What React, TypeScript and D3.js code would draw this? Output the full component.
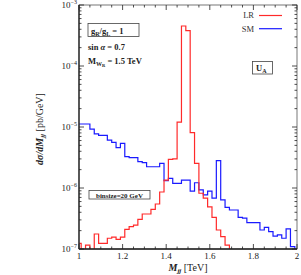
import * as d3 from "d3";

// 20 GeV bins centred on 1.00, 1.02, ... 2.00 TeV (51 bins), values in pb/GeV
const binStart = 0.99;
const binSize = 0.02;
const lrValues = [
  1.24e-7, 8e-8, 1.16e-7, 8e-8, 1.76e-7, 1.24e-7, 1.24e-7, 1.5e-7, 1.56e-7, 1.44e-7,
  1.56e-7, 2.1e-7, 2.32e-7, 2.47e-7, 3.07e-7, 3.75e-7, 3.75e-7, 4.47e-7, 5.47e-7, 8.6e-7,
  1.35e-6, 2.95e-6, 3.0e-6, 1.2e-5, 4.53e-4, 3.79e-4, 8.1e-6, 2.54e-6, 8.2e-7, 6.8e-7,
  4.9e-7, 3.3e-7, 2.05e-7, 1.59e-7, 1.16e-7, 8e-8, 8e-8, 8e-8, 8e-8, 8e-8,
  8e-8, 8e-8, 8e-8, 8e-8, 8e-8, 8e-8, 8e-8, 8e-8, 8e-8, 8e-8, 8e-8,
];
const smValues = [
  1.12e-5, 1.12e-5, 1.12e-5, 9.2e-6, 7.7e-6, 7.3e-6, 7.3e-6, 6.1e-6, 5.6e-6, 4.6e-6,
  5.4e-6, 3.26e-6, 3.14e-6, 3.14e-6, 2.7e-6, 2.6e-6, 2.23e-6, 2.23e-6, 2.23e-6, 2.54e-6,
  1.32e-6, 1.44e-6, 1.19e-6, 1.19e-6, 1.35e-6, 1.35e-6, 8.9e-7, 1.22e-6, 9.3e-7, 7.7e-7,
  8.9e-7, 6.8e-7, 2.8e-6, 6.4e-7, 4.8e-7, 4.36e-7, 4.36e-7, 3.3e-7, 3.2e-7, 2.7e-7,
  2.7e-7, 2.7e-7, 2.05e-7, 2.27e-7, 1.92e-7, 1.63e-7, 1.7e-7, 1.5e-7, 2.13e-7, 1.09e-7, 8e-8,
];
const xTicks = [1, 1.2, 1.4, 1.6, 1.8, 2];
const xTickLabels = ["1", "1.2", "1.4", "1.6", "1.8", "2"];
const yExponents = [-7, -6, -5, -4, -3];

const W = 301;
const H = 275;
const left = 79, right = 297, top = 5, bottom = 249;
const serif = "'Liberation Serif', 'DejaVu Serif', serif";

export default function App() {
  const x = d3.scaleLinear().domain([1, 2]).range([left, right]);
  const y = d3.scaleLog().domain([1e-7, 1e-3]).range([bottom, top]);

  const stepPath = (vals: number[]) => {
    const pts: [number, number][] = vals.map((v, i) => [binStart + i * binSize, v]);
    pts.push([binStart + vals.length * binSize, vals[vals.length - 1]]);
    return d3
      .line<[number, number]>()
      .x((d) => x(d[0]))
      .y((d) => y(Math.max(d[1], 3e-8)))
      .curve(d3.curveStepAfter)(pts) || "";
  };

  const xMinor = d3.range(1, 2.0001, 0.05).filter((t) => Math.abs(t * 5 - Math.round(t * 5)) > 1e-6);
  const yMinor: number[] = [];
  yExponents.slice(0, -1).forEach((e) => {
    for (let k = 2; k <= 9; k++) yMinor.push(k * Math.pow(10, e));
  });

  const axisColor = "#222";

  return (
    <svg width={W} height={H} style={{ position: "absolute", left: 0, top: 0, background: "#fff" }} fontFamily={serif}>
      <defs>
        <clipPath id="plotClip">
          <rect x={left} y={top} width={right - left} height={bottom - top} />
        </clipPath>
      </defs>

      {/* histograms */}
      <g clipPath="url(#plotClip)" fill="none" strokeWidth={1.2}>
        <path d={stepPath(smValues)} stroke="#1a1aff" />
        <path d={stepPath(lrValues)} stroke="#ff2a2a" />
      </g>

      {/* frame */}
      <rect x={left} y={top} width={right - left} height={bottom - top} fill="none" stroke="#555" strokeWidth={0.8} />
      <line x1={left} x2={left} y1={top} y2={bottom} stroke={axisColor} strokeWidth={1.3} />
      <line x1={left} x2={right} y1={bottom} y2={bottom} stroke={axisColor} strokeWidth={1.3} />

      {/* ticks */}
      <g stroke={axisColor} strokeWidth={0.8}>
        {xTicks.map((t) => (
          <g key={"xt" + t}>
            <line x1={x(t)} x2={x(t)} y1={bottom} y2={bottom - 5} />
            <line x1={x(t)} x2={x(t)} y1={top} y2={top + 5} />
          </g>
        ))}
        {xMinor.map((t) => (
          <g key={"xm" + t}>
            <line x1={x(t)} x2={x(t)} y1={bottom} y2={bottom - 2.5} />
            <line x1={x(t)} x2={x(t)} y1={top} y2={top + 2.5} />
          </g>
        ))}
        {yExponents.map((e) => (
          <g key={"yt" + e}>
            <line x1={left} x2={left + 5} y1={y(Math.pow(10, e))} y2={y(Math.pow(10, e))} />
            <line x1={right} x2={right - 5} y1={y(Math.pow(10, e))} y2={y(Math.pow(10, e))} />
          </g>
        ))}
        {yMinor.map((v, i) => (
          <g key={"ym" + i}>
            <line x1={left} x2={left + 2.5} y1={y(v)} y2={y(v)} />
            <line x1={right} x2={right - 2.5} y1={y(v)} y2={y(v)} />
          </g>
        ))}
      </g>

      {/* tick labels */}
      <g fontSize={9} fill="#222">
        {xTicks.map((t, i) => (
          <text key={"xl" + t} x={x(t)} y={259} textAnchor="middle">{xTickLabels[i]}</text>
        ))}
        {yExponents.map((e) => (
          <text key={"yl" + e} x={left - 2} y={y(Math.pow(10, e)) + 3} textAnchor="end">
            10<tspan fontSize={6} dy={-4}>{"\u2212" + Math.abs(e)}</tspan>
          </text>
        ))}
      </g>

      {/* axis titles */}
      <text x={188} y={271} textAnchor="middle" fontSize={10} fill="#222">
        <tspan fontStyle="italic" fontWeight="bold">M</tspan>
        <tspan fontStyle="italic" fontWeight="bold" fontSize={7} dy={2}>jj</tspan>
        <tspan dy={-2}> [TeV]</tspan>
      </text>
      <text transform="translate(43,129) rotate(-90)" textAnchor="middle" fontSize={10} fill="#222">
        <tspan fontStyle="italic" fontWeight="bold">{"d\u03c3/dM"}</tspan>
        <tspan fontStyle="italic" fontWeight="bold" fontSize={7} dy={2}>jj</tspan>
        <tspan dy={-2}> [pb/GeV]</tspan>
      </text>

      {/* legend */}
      <g fontSize={8.5} fill="#333">
        <text x={254} y={18} textAnchor="end">LR</text>
        <line x1={259} x2={282} y1={15.5} y2={15.5} stroke="#ff2a2a" strokeWidth={1.2} />
        <text x={254} y={32} textAnchor="end">SM</text>
        <line x1={259} x2={282} y1={28.7} y2={28.7} stroke="#1a1aff" strokeWidth={1.2} />
      </g>

      {/* annotations */}
      <g fill="#222" fontWeight="bold" fontSize={8.5}>
        <rect x={88} y={23.5} width={51} height={13} fill="none" stroke="#444" strokeWidth={0.8} />
        <text x={91} y={33.5}>
          g<tspan fontSize={6} dy={2}>R</tspan><tspan dy={-2}>/g</tspan><tspan fontSize={6} dy={2}>L</tspan><tspan dy={-2}> = 1</tspan>
        </text>
        <text x={88} y={50}>sin <tspan fontStyle="italic">{"\u03b1"}</tspan> = 0.7</text>
        <text x={88} y={64}>
          M<tspan fontSize={6} dy={2}>W</tspan><tspan fontSize={4.5} dy={1}>R</tspan><tspan dy={-3}> = 1.5 TeV</tspan>
        </text>
        <rect x={252.5} y={61.5} width={20} height={12.5} fill="none" stroke="#444" strokeWidth={0.8} />
        <text x={256} y={71}>U<tspan fontSize={6} dy={1.5}>A</tspan></text>
        <rect x={89} y={190.5} width={61} height={8.5} fill="none" stroke="#444" strokeWidth={0.8} />
        <text x={119.5} y={197.5} textAnchor="middle" fontSize={7}>binsize=20 GeV</text>
      </g>
    </svg>
  );
}
